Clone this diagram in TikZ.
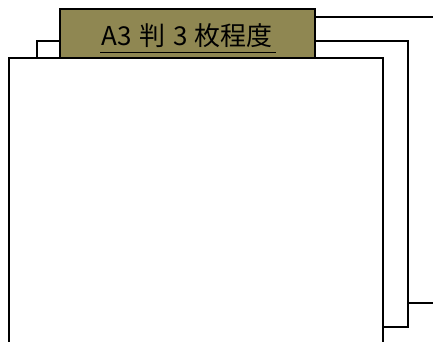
\documentclass[tikz,border=0pt]{standalone}
\usepackage{fontspec}
\newfontfamily\cjk{Noto Sans CJK JP}
\usepackage{xcolor}
\usepackage{tikz}
\definecolor{tabolive}{RGB}{143,135,82}

\begin{document}
\begin{tikzpicture}[x=1pt,y=1pt,line width=1.1pt]
\useasboundingbox (0,0) rectangle (433,342);
% Back sheet
\draw[fill=white] (315,325) rectangle (460,39);
% Middle sheet
\draw[fill=white] (37,301) rectangle (408,15);
% Front sheet
\draw[fill=white] (9,284) rectangle (383,-20);
% Title tab
\draw[fill=tabolive] (60,333) rectangle (315,284);
\node[font=\cjk\fontsize{26}{30}\selectfont,inner sep=0pt] (title) at (187,306.5)
  {A3\hspace{0.3em}判\hspace{0.3em}3\hspace{0.25em}枚程度};
\draw[line width=0.9pt] ([xshift=-1pt,yshift=-4.5pt]title.south west) -- ([xshift=3pt,yshift=-4.5pt]title.south east);
\end{tikzpicture}
\end{document}
